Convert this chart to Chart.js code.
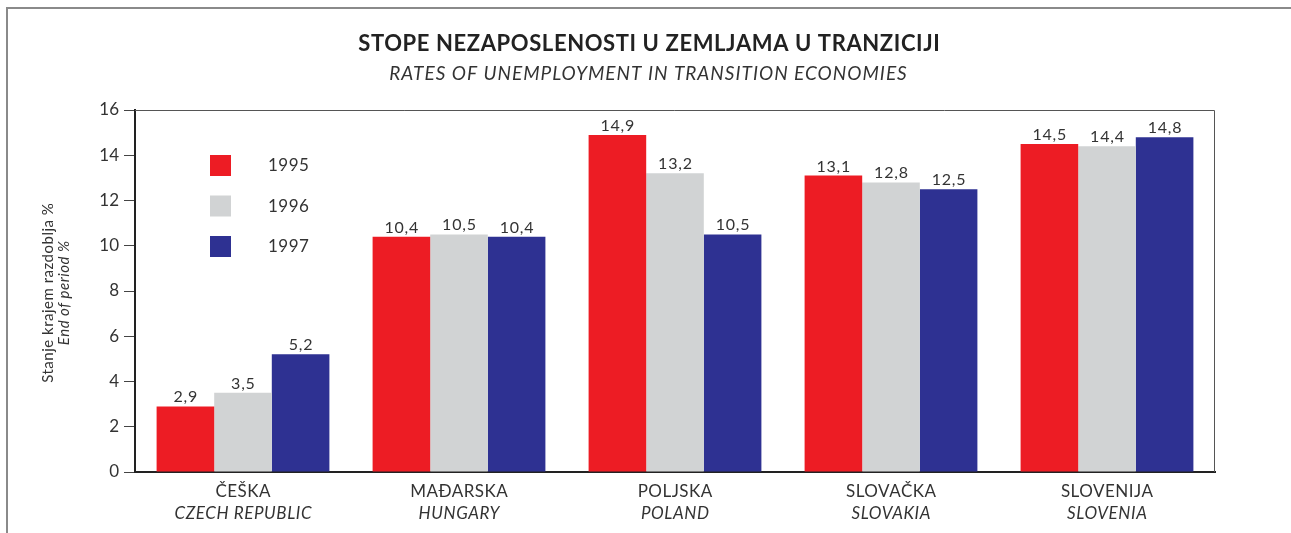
<!DOCTYPE html>
<html>
<head>
<meta charset="utf-8">
<script src="https://cdn.jsdelivr.net/npm/chart.js@4.4.1/dist/chart.umd.min.js"></script>
<style>
  html, body { margin: 0; padding: 0; background: #fff; }
  #wrap { position: relative; width: 1291px; height: 533px; overflow: hidden; }
  #frame { position: absolute; left: 6px; top: 7px; width: 1400px; height: 600px;
           border-left: 2px solid #8a8a8a; border-top: 2px solid #8a8a8a; }
  canvas { position: absolute; left: 0; top: 0; }
</style>
</head>
<body>
<div id="wrap">
  <div id="frame"></div>
  <canvas id="c" width="1291" height="533"></canvas>
</div>
<script>
const titleMain = "STOPE NEZAPOSLENOSTI U ZEMLJAMA U TRANZICIJI";
const titleSub = "RATES OF UNEMPLOYMENT IN TRANSITION ECONOMIES";
const yTitleMain = "Stanje krajem razdoblja %";
const yTitleSub = "End of period %";
const categoriesHr = ["ČEŠKA", "MAĐARSKA", "POLJSKA", "SLOVAČKA", "SLOVENIJA"];
const categoriesEn = ["CZECH REPUBLIC", "HUNGARY", "POLAND", "SLOVAKIA", "SLOVENIA"];
const seriesNames = ["1995", "1996", "1997"];
const values1995 = [2.9, 10.4, 14.9, 13.1, 14.5];
const values1996 = [3.5, 10.5, 13.2, 12.8, 14.4];
const values1997 = [5.2, 10.4, 10.5, 12.5, 14.8];
const yTicks = [0, 2, 4, 6, 8, 10, 12, 14, 16];
const colors = ["#ED1C24", "#D1D3D4", "#2E3192"];

const FONT = "Lato, 'Open Sans', sans-serif";
const TXT = "#333333";

const fmt = v => v.toFixed(1).replace(".", ",");

function centered(ctx, text, x, y, spacing) {
  ctx.letterSpacing = spacing + "px";
  const w = ctx.measureText(text).width - spacing;
  ctx.textAlign = "left";
  ctx.fillText(text, x - w / 2, y);
  ctx.letterSpacing = "0px";
}

const decor = {
  id: "decor",
  afterDatasetsDraw(chart) {
    const ctx = chart.ctx;
    const a = chart.chartArea;
    const xs = chart.scales.x;
    ctx.save();
    ctx.strokeStyle = "#555";
    ctx.lineWidth = 1;
    ctx.beginPath();
    ctx.moveTo(a.left, a.top + 0.5);
    ctx.lineTo(a.right - 0.5, a.top + 0.5);
    ctx.lineTo(a.right - 0.5, a.bottom);
    ctx.stroke();

    ctx.fillStyle = TXT;
    ctx.font = "16px " + FONT;
    ctx.textBaseline = "alphabetic";
    chart.data.datasets.forEach((ds, i) => {
      const meta = chart.getDatasetMeta(i);
      meta.data.forEach((bar, j) => {
        centered(ctx, fmt(ds.data[j]), bar.x, bar.y - 4, 0.8);
      });
    });

    ctx.textBaseline = "middle";
    categoriesHr.forEach((c, i) => {
      const x = xs.getPixelForValue(i);
      ctx.font = "17px " + FONT;
      centered(ctx, c, x, 492, 0.5);
      ctx.font = "italic 17px " + FONT;
      centered(ctx, categoriesEn[i], x, 514, 0.6);
    });

    chart.data.datasets.forEach((ds, i) => {
      const y = 155 + i * 40.5;
      ctx.fillStyle = ds.backgroundColor;
      ctx.fillRect(210, y, 21, 21);
      ctx.fillStyle = TXT;
      ctx.font = "17px " + FONT;
      ctx.textAlign = "left";
      ctx.letterSpacing = "0.5px";
      ctx.fillText(ds.label, 268, y + 11);
      ctx.letterSpacing = "0px";
    });

    ctx.fillStyle = "#222";
    ctx.font = "bold 22px " + FONT;
    centered(ctx, titleMain, 649, 44, 0.6);
    ctx.fillStyle = TXT;
    ctx.font = "italic 19px " + FONT;
    centered(ctx, titleSub, 648, 74, 1.0);

    ctx.save();
    ctx.translate(48, 293);
    ctx.rotate(-Math.PI / 2);
    ctx.font = "15px " + FONT;
    centered(ctx, yTitleMain, 0, 0, 0.5);
    ctx.font = "italic 15px " + FONT;
    centered(ctx, yTitleSub, 0, 16, 0.5);
    ctx.restore();
    ctx.restore();
  }
};

new Chart(document.getElementById("c"), {
  type: "bar",
  data: {
    labels: categoriesHr,
    datasets: [
      { label: seriesNames[0], data: values1995, backgroundColor: colors[0] },
      { label: seriesNames[1], data: values1996, backgroundColor: colors[1] },
      { label: seriesNames[2], data: values1997, backgroundColor: colors[2] }
    ]
  },
  options: {
    responsive: false,
    animation: false,
    devicePixelRatio: 1,
    layout: { padding: { left: 0, top: 110, right: 76, bottom: 0 } },
    datasets: { bar: { categoryPercentage: 0.8, barPercentage: 1.0, borderWidth: 0 } },
    plugins: { legend: { display: false }, tooltip: { enabled: false }, title: { display: false } },
    scales: {
      x: {
        grid: { display: false },
        border: { display: true, color: "#222", width: 2 },
        ticks: { display: false },
        afterFit(s) { s.height = 61; }
      },
      y: {
        min: 0, max: 16,
        afterBuildTicks(s) { s.ticks = yTicks.map(v => ({ value: v })); },
        grid: { drawOnChartArea: false, drawTicks: true, tickLength: 11, color: "#444", lineWidth: 1 },
        border: { display: true, color: "#222", width: 2 },
        ticks: { color: TXT, font: { family: FONT, size: 17 }, padding: 5 },
        afterFit(s) { s.width = 135; }
      }
    }
  },
  plugins: [decor]
});
</script>
</body>
</html>
